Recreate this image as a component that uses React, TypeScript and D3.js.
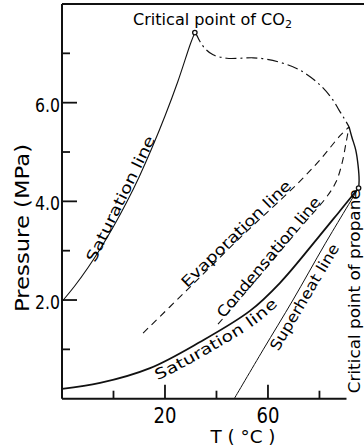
import React, { useEffect, useRef } from 'react';
import * as d3 from 'd3';

// CO2 saturation line (T in °C, P in MPa)
const co2SatT = [-20, -15, -10, -5, 0, 5, 10, 15, 20, 25, 30, 31.6];
const co2SatP = [1.97, 2.29, 2.65, 3.05, 3.49, 3.97, 4.5, 5.09, 5.73, 6.43, 7.21, 7.42];

// critical line from CO2 critical point to the apex (dash-dot)
const critT = [31.6, 32.3, 33.6, 35.5, 38.7, 44.0, 49.1, 54.2, 59.5, 65.8, 72.4, 80.2, 85.3, 87.6, 89.5, 91.5];
const critP = [7.42, 7.37, 7.24, 7.1, 6.97, 6.9, 6.9, 6.91, 6.88, 6.8, 6.66, 6.36, 6.05, 5.85, 5.69, 5.51];

// apex down to the critical point of propane
const edgeT = [91.5, 92.6, 94.1, 95.0, 95.4, 95.2];
const edgeP = [5.51, 5.3, 5.04, 4.73, 4.43, 4.27];

// evaporation line (dashed)
const evapT = [11.5, 28.5, 49.1, 71.3, 80.2, 88.0, 91.5];
const evapP = [1.33, 2.2, 3.26, 4.35, 4.84, 5.33, 5.51];

// condensation line (dashed)
const condT = [40.6, 57.7, 72.4, 82.5, 86.4, 88.8, 90.3, 91.5];
const condP = [1.51, 2.55, 3.46, 4.07, 4.39, 4.78, 5.18, 5.51];

// saturation line of the mixture (solid)
const satT = [-20, -5.2, 14.2, 33.6, 53.0, 64.7, 79.4, 88.0, 95.2];
const satP = [0.2, 0.32, 0.62, 1.15, 1.78, 2.35, 3.26, 3.81, 4.27];

// superheat line
const heatT = [46.9, 58.1, 69.7, 82.2, 95.2];
const heatP = [0, 0.99, 2.0, 3.14, 4.27];

const critCO2 = [31.6, 7.42];
const critPropane = [95.2, 4.27];

const yMajor = [2, 4, 6];
const yMinor = [1, 3, 5, 7];
const yLabels = ['2.0', '4.0', '6.0'];
const xMajor = [20, 60];
const xMinor = [0, 40, 80];
const xLabels = ['20', '60'];

const FONT = '"DejaVu Sans", sans-serif';

const zip = (t: number[], p: number[]) => t.map((v, i) => [v, p[i]] as [number, number]);

export default function App() {
  const svgRef = useRef<SVGSVGElement>(null);

  useEffect(() => {
    if (!svgRef.current) return;
    const svg = d3.select(svgRef.current);
    svg.selectAll('*').remove();

    const x = d3.scaleLinear().domain([-20, 97.3]).range([62, 364]);
    const y = d3.scaleLinear().domain([0, 8]).range([398.7, 4]);

    const line = d3.line<[number, number]>()
      .x(d => x(d[0]))
      .y(d => y(d[1]))
      .curve(d3.curveCatmullRom);

    const g = svg.append('g');

    // frame
    g.append('line').attr('x1', x(-20)).attr('x2', x(-20)).attr('y1', y(8)).attr('y2', y(0))
      .attr('stroke', '#111').attr('stroke-width', 2);
    g.append('line').attr('x1', x(-20)).attr('x2', 364).attr('y1', y(8)).attr('y2', y(8))
      .attr('stroke', '#111').attr('stroke-width', 2);
    g.append('line').attr('x1', x(-20)).attr('x2', x(90.5)).attr('y1', y(0)).attr('y2', y(0))
      .attr('stroke', '#111').attr('stroke-width', 2);

    // ticks
    yMajor.forEach((v, i) => {
      g.append('line').attr('x1', x(-20)).attr('x2', x(-20) + 15).attr('y1', y(v)).attr('y2', y(v))
        .attr('stroke', '#111').attr('stroke-width', 1.8);
      g.append('text').attr('x', 60).attr('y', y(v) + 9).attr('text-anchor', 'end')
        .attr('textLength', 25).attr('lengthAdjust', 'spacingAndGlyphs')
        .style('font-family', FONT).style('font-size', '20px').text(yLabels[i]);
    });
    yMinor.forEach(v => {
      g.append('line').attr('x1', x(-20)).attr('x2', x(-20) + 8).attr('y1', y(v)).attr('y2', y(v))
        .attr('stroke', '#111').attr('stroke-width', 1.8);
    });
    xMajor.forEach((v, i) => {
      g.append('line').attr('x1', x(v)).attr('x2', x(v)).attr('y1', y(0)).attr('y2', y(0) - 14)
        .attr('stroke', '#111').attr('stroke-width', 1.8);
      g.append('text').attr('x', x(v)).attr('y', 423).attr('text-anchor', 'middle')
        .attr('textLength', 23).attr('lengthAdjust', 'spacingAndGlyphs')
        .style('font-family', FONT).style('font-size', '21px').text(xLabels[i]);
    });
    xMinor.forEach(v => {
      g.append('line').attr('x1', x(v)).attr('x2', x(v)).attr('y1', y(0)).attr('y2', y(0) - 8)
        .attr('stroke', '#111').attr('stroke-width', 1.8);
    });

    // axis titles
    g.append('text').attr('transform', 'translate(29,228) rotate(-90)').attr('text-anchor', 'middle')
      .attr('textLength', 168).attr('lengthAdjust', 'spacingAndGlyphs')
      .style('font-family', FONT).style('font-size', '20px').text('Pressure (MPa)');
    g.append('text').attr('x', 243).attr('y', 443).attr('text-anchor', 'middle')
      .attr('textLength', 65).attr('lengthAdjust', 'spacingAndGlyphs')
      .style('font-family', FONT).style('font-size', '18px').text('T ( °C )');

    // curves
    const curves = [
      { id: 'co2sat', pts: zip(co2SatT, co2SatP), w: 1.1, dash: null },
      { id: 'crit', pts: zip(critT, critP), w: 1.2, dash: '11,4,2,4' },
      { id: 'edge', pts: zip(edgeT, edgeP), w: 1.4, dash: null },
      { id: 'evap', pts: zip(evapT, evapP), w: 1.1, dash: '7,5' },
      { id: 'cond', pts: zip(condT, condP), w: 1.1, dash: '7,5' },
      { id: 'sat', pts: zip(satT, satP), w: 1.8, dash: null },
      { id: 'heat', pts: zip(heatT, heatP), w: 1.0, dash: null },
    ];
    curves.forEach(c => {
      g.append('path').attr('id', 'curve-' + c.id).datum(c.pts)
        .attr('fill', 'none').attr('stroke', '#111').attr('stroke-width', c.w)
        .attr('stroke-dasharray', c.dash)
        .attr('d', line);
    });

    // critical points
    [critCO2, critPropane].forEach(p => {
      g.append('circle').attr('cx', x(p[0])).attr('cy', y(p[1])).attr('r', 2.2)
        .attr('fill', '#fff').attr('stroke', '#111').attr('stroke-width', 1.3);
    });

    // straight labels, anchored in data units
    const labels = [
      { text: 'Saturation line', t: -7.2, p: 2.75, angle: -64, len: 138, size: 15 },
      { text: 'Evaporation line', t: 28.6, p: 2.24, angle: -44, len: 146, size: 15 },
      { text: 'Condensation line', t: 42.8, p: 1.62, angle: -50, len: 152, size: 15 },
      { text: 'Superheat line', t: 64.0, p: 0.95, angle: -59.5, len: 121, size: 15 },
      { text: 'Critical point of propane', t: 95.9, p: 0.11, angle: -90, len: 204, size: 16 },
    ];
    labels.forEach(l => {
      g.append('text')
        .attr('transform', `translate(${x(l.t)},${y(l.p)}) rotate(${l.angle})`)
        .attr('textLength', l.len).attr('lengthAdjust', 'spacingAndGlyphs')
        .style('font-family', FONT).style('font-size', `${l.size}px`).text(l.text);
    });

    // lower saturation label follows its curve, just below it
    g.append('text')
      .style('font-family', FONT).style('font-size', '15px')
      .append('textPath').attr('href', '#curve-sat').attr('startOffset', '25%')
      .attr('textLength', 138).attr('lengthAdjust', 'spacingAndGlyphs')
      .append('tspan').attr('dy', 14)
      .text('Saturation line');

    // CO2 critical point label
    const co2 = g.append('text').attr('x', 212.5).attr('y', 25).attr('text-anchor', 'middle')
      .attr('textLength', 159).attr('lengthAdjust', 'spacingAndGlyphs')
      .style('font-family', FONT).style('font-size', '16px');
    co2.append('tspan').text('Critical point of CO');
    co2.append('tspan').attr('dy', 3).style('font-size', '11px').text('2');
  }, []);

  return (
    <svg ref={svgRef} width={364} height={448}
      style={{ position: 'absolute', left: 0, top: 0, background: '#fff' }} />
  );
}
